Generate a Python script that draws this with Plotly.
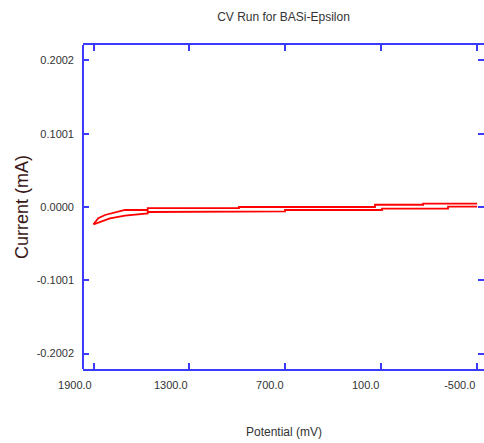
import plotly.graph_objects as go

# Data (potential in mV, current in mA)
upper_mV = [1900, 1870, 1828, 1765, 1703, 1561, 1561, 990, 990, 139, 139, -162, -162, -500]
upper_mA = [-0.0236, -0.0154, -0.0109, -0.0072, -0.0041, -0.0041, -0.0014, -0.0014,
            0.0000, 0.0000, 0.0031, 0.0031, 0.0045, 0.0045]
lower_mV = [1900, 1859, 1797, 1703, 1609, 1561, 1561, 1259, 1259, 702, 702, 95, 95, -318, -318, -500]
lower_mA = [-0.0236, -0.0201, -0.0154, -0.0119, -0.0096, -0.0089, -0.0068, -0.0068,
            -0.0059, -0.0059, -0.0041, -0.0041, -0.0023, -0.0023, 0.0004, 0.0004]

x_ticks = [1900, 1300, 700, 100, -500]
x_labels = ["1900.0", "1300.0", "700.0", "100.0", "-500.0"]
y_ticks = [0.2002, 0.1001, 0.0, -0.1001, -0.2002]
y_labels = ["0.2002", "0.1001", "0.0000", "-0.1001", "-0.2002"]

AX = "#3b3bff"
TXT = "#333333"
FONT = "Liberation Sans, Arial, sans-serif"

fig = go.Figure()
fig.add_trace(go.Scatter(x=upper_mV, y=upper_mA, mode="lines",
                         line=dict(color="#ff0000", width=1.8), showlegend=False))
fig.add_trace(go.Scatter(x=lower_mV, y=lower_mA, mode="lines",
                         line=dict(color="#ff0000", width=1.8), showlegend=False))

fig.update_layout(
    width=484, height=443,
    margin=dict(l=83, r=0, t=45, b=74),
    paper_bgcolor="white", plot_bgcolor="white",
    title=dict(text="CV Run for BASi-Epsilon", x=(83 + 484) / 2 / 484, xanchor="center",
               xref="container", yref="container", y=1 - 17 / 443, yanchor="middle",
               font=dict(family=FONT, size=12, color=TXT)),
    xaxis=dict(range=[1965.7, -543], showgrid=False, zeroline=False,
               showline=True, linecolor=AX, linewidth=2, mirror="ticks",
               ticks="inside", ticklen=6, tickwidth=1.5, tickcolor=AX,
               tickvals=x_ticks, ticktext=x_labels,
               ticklabelposition="outside left", ticklabelstandoff=5,
               tickfont=dict(family=FONT, size=11, color=TXT)),
    yaxis=dict(range=[-0.2212, 0.2212], showgrid=False, zeroline=False,
               showline=False, mirror="ticks",
               ticks="inside", ticklen=6, tickwidth=1.5, tickcolor=AX,
               tickvals=y_ticks, ticktext=y_labels, ticklabelstandoff=8,
               tickfont=dict(family=FONT, size=11, color=TXT)),
    shapes=[dict(type="line", xref="paper", yref="paper", x0=0, x1=0, y0=0, y1=1,
                 line=dict(color=AX, width=2))],
    annotations=[
        dict(text="Potential (mV)", xref="paper", yref="paper",
             x=0.5, y=-(432 - 369) / 324, xanchor="center", yanchor="middle",
             showarrow=False, font=dict(family=FONT, size=12, color=TXT)),
        dict(text="Current (mA)", xref="paper", yref="paper",
             x=-(83 - 22) / 401, y=(369 - 207) / 324, xanchor="center", yanchor="middle",
             textangle=-90, showarrow=False,
             font=dict(family=FONT, size=18, color="#3a1616")),
    ],
)

fig.write_html("out.html")
